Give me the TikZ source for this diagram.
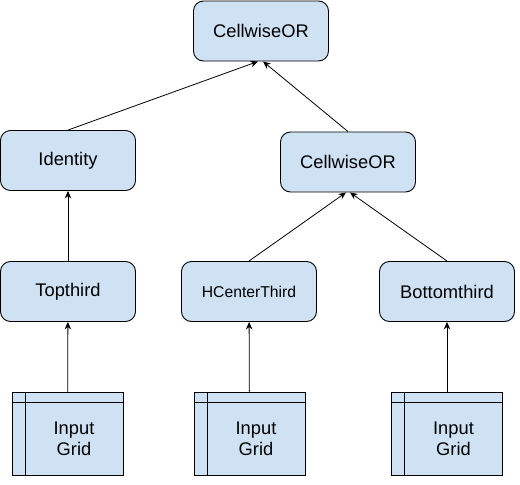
\documentclass[tikz,border=0pt]{standalone}
\usepackage{fontspec}
\setmainfont{Liberation Sans}
\usetikzlibrary{arrows.meta}
\definecolor{boxblue}{HTML}{CFE2F3}
\tikzset{
  opbox/.style={draw=black,fill=boxblue,rounded corners=10pt,line width=0.9pt,
    minimum width=135pt,minimum height=60pt,inner sep=0pt,
    font=\fontsize{18.3}{21}\selectfont},
  gridbox/.style={draw=black,fill=boxblue,line width=0.9pt,
    minimum width=111pt,minimum height=83pt,inner sep=0pt,
    path picture={
      \draw[line width=0.9pt] ([xshift=13pt]path picture bounding box.north west) -- ([xshift=13pt]path picture bounding box.south west);
      \draw[line width=0.9pt] ([yshift=-10pt]path picture bounding box.north west) -- ([yshift=-10pt]path picture bounding box.north east);
    },
    label={[xshift=6.5pt,yshift=-5pt,align=center,font=\fontsize{18.3}{21}\selectfont]center:Input\\Grid}},
  flow/.style={-{Stealth[length=7.5pt,width=6.5pt]},line width=0.8pt}
}

\begin{document}
\begin{tikzpicture}[x=1pt,y=-1pt]
      \useasboundingbox (0,0) rectangle (520,485);

      % operators
      \node[opbox] (top) at (261,31) {CellwiseOR};
      \node[opbox] (ident) at (68,160.5) {Identity};
      \node[opbox] (mid) at (348,162) {CellwiseOR};
      \node[opbox] (topthird) at (68,291.5) {Topthird};
      \node[opbox,font=\fontsize{15.7}{19}\selectfont] (hcenter) at (249,291.5) {HCenterThird};
      \node[opbox] (bottomthird) at (447,291.5) {Bottomthird};

      % inputs
      \node[gridbox] (gridA) at (67.5,433.5) {};
      \node[gridbox] (gridB) at (249.5,433.5) {};
      \node[gridbox] (gridC) at (447,433.5) {};

      \draw[flow] (gridA) -- (topthird);
      \draw[flow] (gridB) -- (hcenter);
      \draw[flow] (gridC) -- (bottomthird);

      \draw[flow] (topthird) -- (ident);
      \draw[flow] (hcenter.north) -- ([xshift=-2pt]mid.south);
      \draw[flow] (bottomthird.north) -- ([xshift=2pt]mid.south);

      \draw[flow] (ident.north) -- ([xshift=-3pt]top.south);
      \draw[flow] (mid.north) -- ([xshift=2pt]top.south);
    \end{tikzpicture}
\end{document}
